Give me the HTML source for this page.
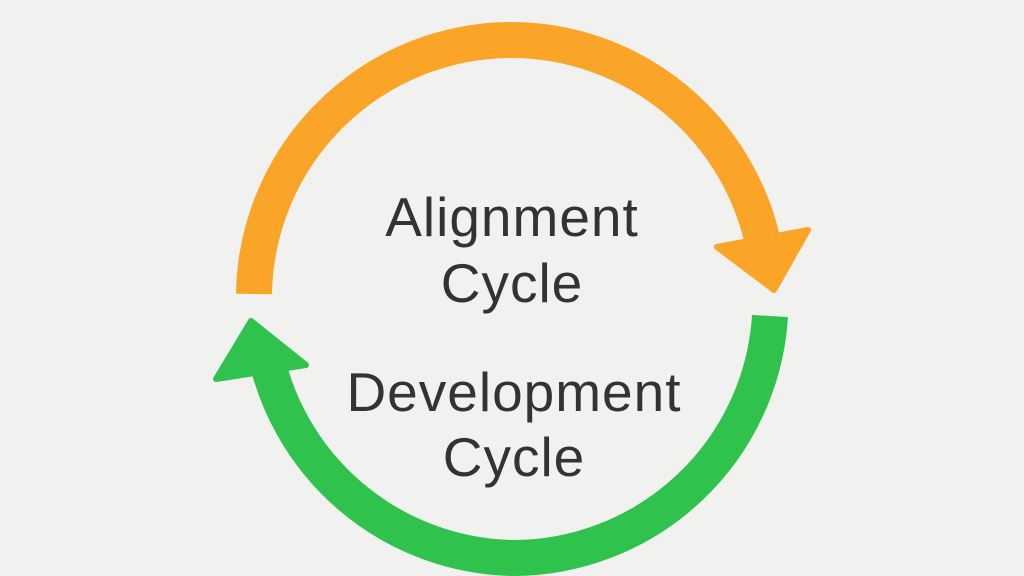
<!DOCTYPE html>
<html><head><style>
html,body{margin:0;padding:0;background:#f1f2f0;}
svg{display:block}
</style></head><body>
<svg width="1024" height="576" viewBox="0 0 1024 576">
<rect width="1024" height="576" fill="#f1f2f0"/>
<path d="M254,294 A258,258 0 0 1 512,40 A258,258 0 0 1 764,248" fill="none" stroke="#faa428" stroke-width="36" stroke-linejoin="round"/>
<polygon points="717,247 808,230 774,290" fill="#faa428" stroke="#faa428" stroke-width="6" stroke-linejoin="round"/>
<path d="M770,316 A258,258 0 0 1 512,558 A258,258 0 0 1 264,346" fill="none" stroke="#2fc24c" stroke-width="36"/>
<polygon points="216,379 251,321 306,365" fill="#2fc24c" stroke="#2fc24c" stroke-width="6" stroke-linejoin="round"/>
<g font-family="Liberation Sans, sans-serif" font-size="55" fill="#333" text-anchor="middle" letter-spacing="1">
<text x="512" y="236">Alignment</text>
<text x="512" y="302">Cycle</text>
<text x="514" y="411">Development</text>
<text x="514" y="476">Cycle</text>
</g>
</svg>
</body></html>
